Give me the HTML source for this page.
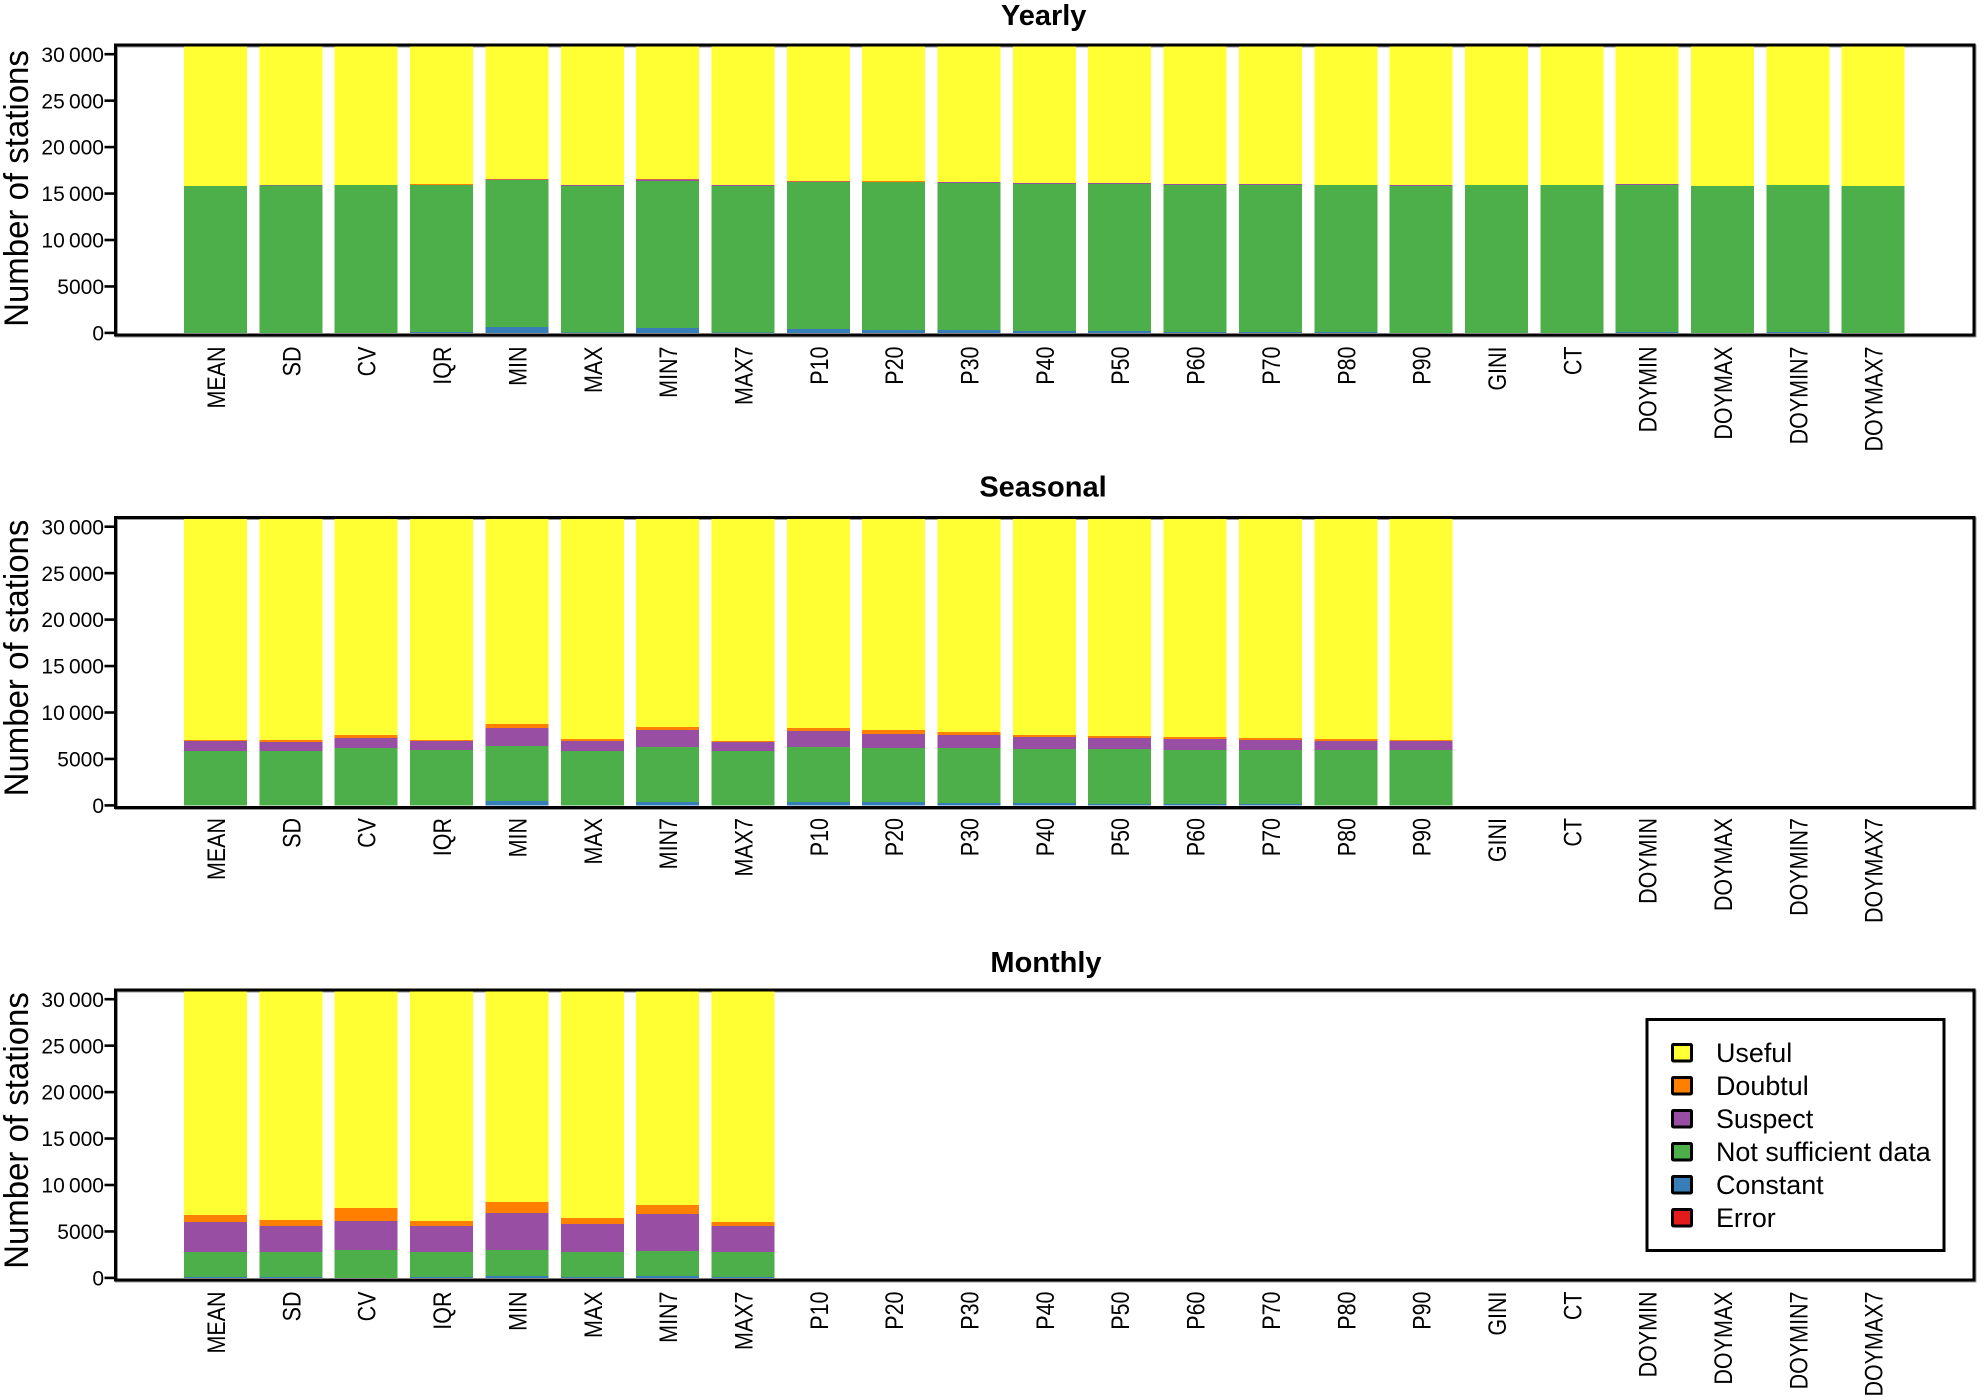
<!DOCTYPE html>
<html>
<head>
<meta charset="utf-8">
<title>Number of stations per signature</title>
<style>
html,body{margin:0;padding:0;background:#fff;}
svg{display:block;}
text{font-family:"Liberation Sans",Arial,sans-serif;fill:#000;}
</style>
</head>
<body>
<svg id="figure" xmlns="http://www.w3.org/2000/svg" width="1986" height="1400" viewBox="0 0 1986 1400"></svg>
<script>
const categories = ["MEAN","SD","CV","IQR","MIN","MAX","MIN7","MAX7","P10","P20","P30","P40","P50","P60","P70","P80","P90","GINI","CT","DOYMIN","DOYMAX","DOYMIN7","DOYMAX7"];
const tickValues = [0,5000,10000,15000,20000,25000,30000];
const tickLabels = ["0","5000","10\u2009000","15\u2009000","20\u2009000","25\u2009000","30\u2009000"];
const legendLabels = ["Useful","Doubtul","Suspect","Not sufficient data","Constant","Error"];

const yearlyError = [0,0,0,0,0,0,0,0,0,0,0,0,0,0,0,0,0,0,0,0,0,0,0];
const yearlyConstant = [0,0,0,75,613,20,506,20,398,290,290,183,183,75,75,75,0,0,0,75,0,75,0];
const yearlyNotSufficient = [15823,15860,15899,15824,15827,15780,15823,15803,15824,15932,15824,15823,15823,15824,15824,15824,15823,15899,15899,15824,15790,15824,15790];
const yearlySuspect = [0,45,0,31,90,99,191,76,98,48,108,108,108,107,107,0,76,0,0,107,0,0,0];
const yearlyDoubtful = [0,0,0,76,15,0,25,0,9,59,0,0,0,0,0,0,0,0,0,0,0,0,0];
const yearlyUseful = [15127,15045,15051,14944,14405,15051,14405,15051,14621,14621,14728,14836,14836,14944,14944,15051,15051,15051,15051,14944,15160,15051,15160];

const seasonalError = [0,0,0,0,0,0,0,0,0,0,0,0,0,0,0,0,0];
const seasonalConstant = [0,0,0,0,452,0,344,0,344,344,237,237,129,129,129,0,0];
const seasonalNotSufficient = [5834,5834,6157,5942,5920,5834,5921,5834,5921,5813,5920,5813,5921,5813,5813,5942,5942];
const seasonalSuspect = [1076,969,1077,968,1938,1076,1830,969,1722,1507,1399,1291,1184,1184,1076,968,968];
const seasonalDoubtful = [108,215,322,108,430,216,322,107,323,431,323,215,215,215,216,216,108];
const seasonalUseful = [23932,23932,23394,23932,22210,23824,22533,24040,22640,22855,23071,23394,23501,23609,23716,23824,23932];

const monthlyError = [0,0,0,0,0,0,0,0];
const monthlyConstant = [75,75,0,75,183,75,183,75];
const monthlyNotSufficient = [2691,2691,2982,2691,2799,2691,2691,2691];
const monthlySuspect = [3230,2799,3121,2799,3983,3014,3983,2799];
const monthlyDoubtful = [753,646,1400,538,1184,646,969,431];
const monthlyUseful = [24201,24739,23447,24847,22801,24524,23124,24954];

const NS = "http://www.w3.org/2000/svg";
const figure = document.getElementById("figure");
const seriesColors = ["#E41A1C","#377EB8","#4DAF4A","#984EA3","#FF7F00","#FFFF33"];
const seriesKeys = ["error","constant","not-sufficient","suspect","doubtful","useful"];
const legendColors = ["#FFFF33","#FF7F00","#984EA3","#4DAF4A","#377EB8","#E41A1C"];

const panels = [
  {title:"Yearly", key:"yearly", offset:0, titleX:1043.7, titleY:25, yTitleY:188.5, xLabelY:346.5, series:[yearlyError,yearlyConstant,yearlyNotSufficient,yearlySuspect,yearlyDoubtful,yearlyUseful]},
  {title:"Seasonal", key:"seasonal", offset:472.5, titleX:1043, titleY:496.5, yTitleY:658, xLabelY:818, series:[seasonalError,seasonalConstant,seasonalNotSufficient,seasonalSuspect,seasonalDoubtful,seasonalUseful]},
  {title:"Monthly", key:"monthly", offset:945, titleX:1046, titleY:972, yTitleY:1130.5, xLabelY:1291.5, series:[monthlyError,monthlyConstant,monthlyNotSufficient,monthlySuspect,monthlyDoubtful,monthlyUseful]}
];

const plotLeft = 115.5, plotRight = 1974, plotTop = 45, plotBottom = 335;
const zeroY = 332.9, pxPerStation = 0.00929;
const barStart = 184, barPitch = 75.35, barWidth = 63;

function xScale(i){ return barStart + barPitch * i; }
function yScale(v, off){ return zeroY + off - v * pxPerStation; }

function make(tag, attrs, parent){
  const el = document.createElementNS(NS, tag);
  for (const k in attrs) el.setAttribute(k, attrs[k]);
  parent.appendChild(el);
  return el;
}

const defs = make("defs", {}, figure);

panels.forEach(function(p){
  const off = p.offset;
  const group = make("g", {}, figure);
  
  

  const clip = make("clipPath", {id:"clip-" + p.key}, defs);
  make("rect", {x:plotLeft, y:plotTop + off, width:plotRight - plotLeft, height:plotBottom - plotTop}, clip);

  const shadow = make("rect", {x:plotLeft + 1, y:plotTop + off + 1, width:plotRight - plotLeft, height:plotBottom - plotTop, fill:"none", stroke:"#999", "stroke-width":3}, group);
  
  

  const title = make("text", {x:p.titleX, y:p.titleY, "text-anchor":"middle", "font-size":29, "font-weight":"bold"}, group);
  title.textContent = p.title;
  
  

  const yTitle = make("text", {transform:"translate(28," + p.yTitleY + ") rotate(-90) scale(.97,1)", "text-anchor":"middle", "font-size":34}, group);
  yTitle.textContent = "Number of stations";
  
  

  const bars = make("g", {"clip-path":"url(#clip-" + p.key + ")", "shape-rendering":"crispEdges"}, group);
  
  

  categories.forEach(function(cat, i){
    let cumulative = 0;
    p.series.forEach(function(values, s){
      const v = values[i];
      if (v === undefined || v <= 0) return;
      const y1 = yScale(cumulative, off);
      const y2 = yScale(cumulative + v, off);
      cumulative += v;
      const r = make("rect", {x:xScale(i), y:y2, width:barWidth, height:y1 - y2, fill:seriesColors[s]}, bars);
      
      
    });

    const label = make("text", {transform:"translate(" + (xScale(i) + barWidth / 2 + 9.5) + "," + p.xLabelY + ") rotate(-90) scale(.87,1)", "text-anchor":"end", "font-size":24.7}, group);
    label.textContent = cat;
    
    
  });

  tickValues.forEach(function(v, t){
    const y = yScale(v, off);
    const tick = make("line", {x1:104.5, x2:plotLeft, y1:y, y2:y, stroke:"#000", "stroke-width":2.6}, group);
    
    
    const tl = make("text", {x:104, y:y + 7.6, "text-anchor":"end", "font-size":21}, group);
    tl.textContent = tickLabels[t];
    
    
  });

  const frame = make("rect", {x:plotLeft, y:plotTop + off, width:plotRight - plotLeft, height:plotBottom - plotTop, fill:"none", stroke:"#000", "stroke-width":3}, group);
  
  
});

const legend = make("g", {}, figure);


const legendBox = make("rect", {x:1647, y:1019.5, width:297, height:231, fill:"#fff", stroke:"#000", "stroke-width":3}, legend);


legendLabels.forEach(function(name, i){
  const y = 1044.5 + 33 * i;
  const key = make("rect", {x:1672.5, y:y, width:19, height:16.5, rx:1, fill:legendColors[i], stroke:"#000", "stroke-width":3}, legend);
  
  
  const text = make("text", {x:1716, y:1062 + 33 * i, "font-size":26.9}, legend);
  text.textContent = name;
  
  
});
</script>
</body>
</html>
